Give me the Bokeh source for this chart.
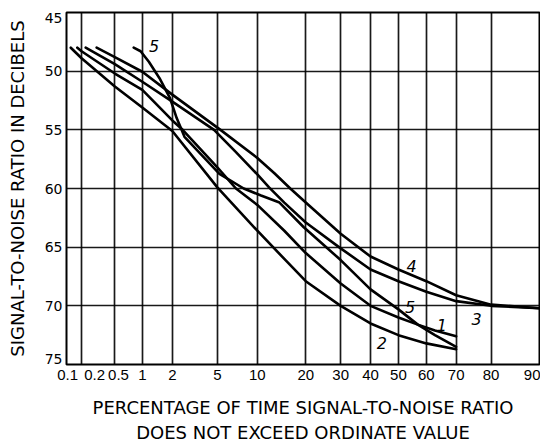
from statistics import NormalDist
from bokeh.plotting import figure
from bokeh.models import Range1d, FixedTicker, ColumnDataSource
from bokeh.embed import file_html
from bokeh.resources import INLINE
from bokeh.core.properties import value

# ---- data (percentage of time, signal-to-noise ratio in dB) ----
c1_pct = [0.177, 0.2, 0.5, 1, 2, 2.5, 5, 7, 10, 15, 20, 30, 40, 50, 57, 63, 70]
c1_db = [48.0, 48.3, 50.2, 51.6, 54.2, 55.0, 58.2, 60.0, 61.4, 63.6, 65.5, 68.1, 70.0, 71.0, 71.6, 72.1, 72.6]

c2_pct = [0.146, 0.2, 0.5, 1, 2, 5, 10, 15, 20, 30, 40, 50, 60, 70]
c2_db = [48.0, 48.9, 51.3, 53.1, 55.1, 59.9, 63.6, 66.0, 67.9, 70.0, 71.5, 72.5, 73.2, 73.7]

c3_pct = [0.225, 0.5, 1, 2, 4.7, 7, 10, 12, 15, 20, 30, 40, 50, 60, 70, 80, 90]
c3_db = [48.0, 49.4, 50.9, 52.6, 55.0, 56.9, 58.8, 59.9, 61.2, 62.9, 65.1, 66.9, 67.9, 68.8, 69.6, 70.0, 70.2]

c4_pct = [0.306, 0.5, 1, 2, 5.3, 10, 13, 16.3, 20, 30, 40, 50, 60, 70, 80, 90]
c4_db = [48.0, 48.8, 50.05, 52.0, 55.0, 57.4, 58.7, 60.0, 61.2, 63.85, 65.8, 66.9, 67.9, 69.1, 69.9, 70.2]

c5_pct = [0.81, 0.96, 1.17, 1.5, 1.9, 2.2, 2.6, 5.2, 8, 10.6, 14, 19.5, 30, 40, 50, 57, 63, 70]
c5_db = [48.0, 48.3, 49.2, 50.6, 52.3, 54.0, 55.6, 58.75, 60.0, 60.6, 61.2, 63.3, 66.1, 68.6, 70.3, 71.6, 72.5, 73.5]

curve_names = ["5", "4", "5", "1", "3", "2"]
curve_label_pct = [1.32, 54.8, 54.2, 65.3, 76.1, 44.0]
curve_label_db = [47.83, 66.6, 70.1, 71.66, 71.09, 73.2]

x_grid_pct = [0.1, 0.2, 0.5, 1, 2, 5, 10, 20, 30, 40, 50, 60, 70, 80, 90]
x_tick_labels = ["0.1", "0.2", "0.5", "1", "2", "5", "10", "20", "30", "40", "50", "60", "70", "80", "90"]
x_label_pct = [0.133, 0.29, 0.55, 1, 2, 5, 10, 20, 30, 40, 50, 60, 70, 80, 88.9]
x_start_pct = 0.1285
x_end_pct = 90

y_grid = [45, 50, 55, 60, 65, 70, 75]
y_tick_labels = ["45", "50", "55", "60", "65", "70", "75"]
y_label_pos = [45.45, 50, 55, 60, 65, 70, 74.5]

nd = NormalDist()


def z(pct):
    return round(nd.inv_cdf(pct / 100.0), 6)


FONT = "DejaVu Sans"
TICKFONT = "Liberation Sans"

p = figure(width=540, height=446, output_backend="svg", toolbar_location=None,
           x_range=Range1d(z(x_start_pct), z(x_end_pct)), y_range=Range1d(75, 45),
           min_border_left=66, min_border_right=1, min_border_top=12, min_border_bottom=82,
           background_fill_color="white", border_fill_color="white")

p.outline_line_color = "black"
p.outline_line_width = 2

# grids
p.xgrid.ticker = FixedTicker(ticks=[z(v) for v in x_grid_pct])
p.ygrid.ticker = FixedTicker(ticks=y_grid)
for g in (p.xgrid, p.ygrid):
    g.grid_line_color = "black"
    g.grid_line_width = 1.7
    g.grid_line_alpha = 0.9

# axes
p.xaxis.ticker = FixedTicker(ticks=[z(v) for v in x_label_pct])
p.xaxis.major_label_overrides = {z(v): t for v, t in zip(x_label_pct, x_tick_labels)}
p.yaxis.ticker = FixedTicker(ticks=y_label_pos)
p.yaxis.major_label_overrides = {v: t for v, t in zip(y_label_pos, y_tick_labels)}

for ax in (p.xaxis, p.yaxis):
    ax.axis_line_color = None
    ax.major_tick_line_color = None
    ax.minor_tick_line_color = None
    ax.major_tick_out = 0
    ax.major_tick_in = 0
    ax.minor_tick_out = 0
    ax.minor_tick_in = 0
    ax.major_label_text_color = "black"
    ax.axis_label_text_font = FONT
    ax.axis_label_text_font_style = "normal"
    ax.axis_label_text_color = "black"

p.xaxis.major_label_text_font = TICKFONT
p.xaxis.major_label_text_font_size = "15px"
p.yaxis.major_label_text_font = FONT
p.yaxis.major_label_text_font_size = "14px"

p.xaxis.major_label_standoff = 5
p.yaxis.major_label_standoff = 4
p.xaxis.axis_label = "PERCENTAGE OF TIME SIGNAL-TO-NOISE RATIO\nDOES NOT EXCEED ORDINATE VALUE"
p.xaxis.axis_label_text_font_size = "18px"
p.xaxis.axis_label_standoff = 14
p.xaxis.axis_label_text_line_height = 1.2
p.yaxis.axis_label = "SIGNAL-TO-NOISE RATIO IN DECIBELS"
p.yaxis.axis_label_text_font_size = "18px"
p.yaxis.axis_label_standoff = 14

# curves
for pct, db in [(c1_pct, c1_db), (c2_pct, c2_db), (c3_pct, c3_db), (c4_pct, c4_db), (c5_pct, c5_db)]:
    p.line(x=[z(v) for v in pct], y=db, line_color="black", line_width=2.6,
           line_join="round", line_cap="round")

# curve numbers
lab_src = ColumnDataSource(dict(x=[z(v) for v in curve_label_pct], y=curve_label_db, t=curve_names))
p.text(x="x", y="y", text="t", source=lab_src, text_font=value(FONT), text_font_style="italic",
       text_font_size="16px", text_align="center", text_baseline="middle", text_color="black")

open("out.html", "w").write(file_html(p, INLINE))
